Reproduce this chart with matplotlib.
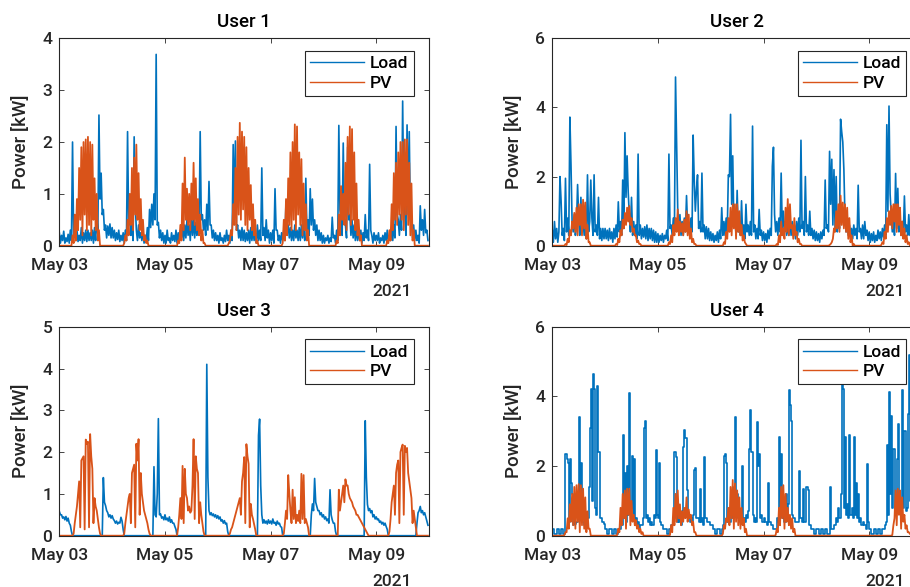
import numpy as np
import matplotlib
matplotlib.use("Agg")
import matplotlib.pyplot as plt
import matplotlib.dates as mdates

# One week of readings, May 03 00:00 -> May 10 00:00.
# *_hi is the reading at hh:00, *_lo the one at hh:30 (one row per day).
START = np.datetime64("2021-05-03T00:00")
END = np.datetime64("2021-05-10T00:00")
TICK_DAYS = ["2021-05-03", "2021-05-05", "2021-05-07", "2021-05-09"]
USERS = ["User 1", "User 2", "User 3", "User 4"]
Y_MAX = [4, 6, 5, 6]
Y_STEP = [1, 2, 1, 2]

load_u1_hi = [
    0.25, 0.2, 0.28, 0.15, 0.22, 0.3, 2.0, 0.35, 0.3, 0.2, 0.35, 0.25, 0.3, 0.3, 0.25, 0.3, 0.35, 0.6, 2.52, 1.4, 0.7, 0.4, 0.38, 0.42,
    0.35, 0.3, 0.25, 0.3, 0.2, 0.25, 0.3, 2.2, 0.6, 0.4, 2.1, 0.3, 0.4, 0.25, 0.3, 0.2, 0.35, 0.7, 0.8, 1.0, 3.69, 0.45, 0.3, 0.25,
    0.2, 0.3, 0.15, 0.25, 0.2, 0.3, 0.25, 0.3, 0.35, 0.4, 0.5, 0.4, 0.6, 0.5, 0.45, 0.8, 2.2, 0.6, 0.5, 0.8, 1.24, 0.4, 0.3, 0.25,
    0.2, 0.25, 0.15, 0.2, 0.3, 0.2, 0.3, 1.95, 2.02, 0.4, 0.3, 0.35, 0.3, 0.25, 0.3, 0.35, 0.3, 0.25, 0.4, 0.3, 1.5, 0.35, 0.5, 0.3,
    0.25, 0.3, 1.1, 0.3, 0.2, 0.25, 0.3, 0.86, 0.4, 0.35, 0.3, 0.4, 0.3, 0.35, 0.4, 0.45, 1.3, 0.5, 1.1, 0.9, 0.5, 0.4, 0.3, 0.25,
    0.2, 0.15, 0.2, 0.15, 0.55, 0.2, 0.3, 2.32, 0.5, 1.98, 0.4, 1.9, 0.6, 0.5, 0.4, 0.35, 0.3, 0.3, 0.25, 0.6, 0.3, 1.57, 0.2, 0.25,
    0.2, 0.25, 0.15, 0.2, 0.25, 0.3, 0.2, 0.3, 0.4, 2.3, 0.5, 0.6, 2.79, 0.6, 2.33, 2.2, 0.5, 0.4, 0.3, 0.2, 0.77, 0.5, 0.7, 0.3,
]
load_u1_lo = [
    0.05, 0.1, 0.05, 0.08, 0.05, 0.1, 0.15, 0.1, 0.08, 0.1, 0.05, 0.1, 0.08, 0.1, 0.1, 0.05, 0.1, 0.2, 0.9, 0.6, 0.3, 0.15, 0.2, 0.15,
    0.15, 0.1, 0.12, 0.08, 0.1, 0.05, 0.1, 0.4, 0.2, 0.1, 0.8, 0.1, 0.15, 0.1, 0.05, 0.1, 0.1, 0.35, 0.4, 0.5, 0.4, 0.15, 0.1, 0.05,
    0.05, 0.1, 0.05, 0.1, 0.08, 0.05, 0.1, 0.15, 0.1, 0.15, 0.2, 0.1, 0.2, 0.15, 0.2, 0.3, 0.5, 0.3, 0.2, 0.3, 0.4, 0.15, 0.1, 0.1,
    0.05, 0.1, 0.05, 0.08, 0.1, 0.05, 0.1, 0.6, 0.3, 0.15, 0.1, 0.1, 0.08, 0.1, 0.05, 0.1, 0.1, 0.05, 0.1, 0.1, 0.2, 0.1, 0.15, 0.05,
    0.1, 0.05, 0.3, 0.1, 0.05, 0.1, 0.1, 0.3, 0.15, 0.1, 0.1, 0.15, 0.1, 0.1, 0.15, 0.1, 0.3, 0.2, 0.4, 0.3, 0.2, 0.1, 0.1, 0.05,
    0.05, 0.1, 0.05, 0.08, 0.15, 0.05, 0.1, 0.7, 0.2, 0.6, 0.15, 0.5, 0.2, 0.15, 0.1, 0.1, 0.1, 0.05, 0.1, 0.15, 0.1, 0.3, 0.05, 0.1,
    0.1, 0.05, 0.1, 0.05, 0.1, 0.08, 0.1, 0.1, 0.15, 0.6, 0.2, 0.3, 0.8, 0.2, 0.6, 0.5, 0.15, 0.1, 0.1, 0.05, 0.3, 0.2, 0.25, 0.1,
]
pv_u1_hi = [
    0, 0, 0, 0, 0, 0, 0.2, 0.6, 0.9, 1.5, 1.9, 2.0, 2.05, 2.1, 2.0, 1.95, 1.3, 1.0, 0.3, 0, 0, 0, 0, 0,
    0, 0, 0, 0, 0, 0, 0.2, 0.5, 1.0, 1.5, 1.7, 1.95, 1.4, 0.9, 0.5, 0.2, 0.1, 0, 0, 0, 0, 0, 0, 0,
    0, 0, 0, 0, 0, 0, 0.1, 0.4, 1.2, 1.7, 1.1, 1.0, 1.2, 1.6, 1.3, 0.9, 0.6, 0.3, 0.05, 0, 0, 0, 0, 0,
    0, 0, 0, 0, 0, 0.05, 0.3, 0.8, 1.5, 2.1, 2.37, 2.2, 2.1, 1.9, 1.5, 1.17, 0.8, 0.5, 0.1, 0, 0, 0, 0, 0,
    0, 0, 0, 0, 0, 0, 0.5, 0.9, 1.3, 1.8, 2.0, 2.34, 2.3, 1.8, 1.67, 1.2, 0.8, 0.3, 0, 0, 0, 0, 0, 0,
    0, 0, 0, 0, 0, 0, 0.1, 0.6, 1.15, 1.0, 1.6, 2.1, 2.3, 2.25, 1.8, 1.2, 0.5, 0.2, 0, 0, 0, 0, 0, 0,
    0, 0, 0, 0, 0, 0.1, 0.3, 0.8, 1.4, 1.6, 1.8, 2.0, 2.0, 2.05, 2.05, 1.6, 1.2, 0.3, 0, 0, 0, 0, 0, 0,
]
pv_u1_lo = [
    0, 0, 0, 0, 0, 0, 0.05, 0.1, 0.3, 0.5, 0.2, 0.6, 0.3, 0.4, 0.2, 0.5, 0.3, 0.1, 0, 0, 0, 0, 0, 0,
    0, 0, 0, 0, 0, 0.05, 0.1, 0.2, 0.4, 0.3, 0.6, 0.5, 0.3, 0.2, 0.1, 0.05, 0, 0, 0, 0, 0, 0, 0, 0,
    0, 0, 0, 0, 0, 0, 0.05, 0.1, 0.3, 0.5, 0.4, 0.3, 0.5, 0.4, 0.3, 0.2, 0.1, 0.05, 0, 0, 0, 0, 0, 0,
    0, 0, 0, 0, 0, 0.1, 0.2, 0.4, 0.3, 0.6, 0.5, 0.7, 0.4, 0.3, 0.5, 0.3, 0.2, 0.05, 0, 0, 0, 0, 0, 0,
    0, 0, 0, 0, 0, 0.05, 0.1, 0.2, 0.4, 0.3, 0.5, 0.3, 0.6, 0.4, 0.2, 0.3, 0.1, 0, 0, 0, 0, 0, 0, 0,
    0, 0, 0, 0, 0, 0, 0.05, 0.2, 0.5, 0.4, 0.3, 0.6, 0.4, 0.5, 0.3, 0.2, 0.1, 0, 0, 0, 0, 0, 0, 0,
    0, 0, 0, 0, 0, 0.05, 0.1, 0.3, 0.5, 0.4, 0.6, 0.5, 0.3, 0.6, 0.4, 0.2, 0.1, 0, 0, 0, 0, 0, 0, 0,
]

load_u2_hi = [
    0.45, 0.7, 0.5, 0.4, 1.3, 0.5, 1.95, 0.8, 3.72, 0.7, 0.9, 0.6, 0.8, 1.4, 0.7, 0.6, 2.05, 0.7, 0.8, 2.05, 0.6, 1.4, 0.5, 0.5,
    0.5, 0.45, 0.5, 0.4, 0.5, 0.6, 1.27, 0.7, 1.9, 3.27, 2.6, 0.9, 1.4, 0.7, 0.6, 2.65, 0.6, 0.5, 0.55, 0.6, 0.5, 0.5, 0.45, 0.4,
    0.35, 0.3, 0.35, 0.3, 0.45, 2.65, 0.6, 0.8, 4.88, 1.05, 0.9, 0.7, 0.8, 1.45, 0.6, 0.8, 3.2, 1.0, 2.05, 0.7, 2.1, 0.6, 0.55, 0.5,
    0.4, 0.35, 0.3, 0.4, 0.45, 1.1, 0.7, 0.8, 2.05, 3.8, 2.6, 0.8, 1.6, 0.7, 1.3, 0.6, 1.2, 0.6, 0.7, 3.46, 0.6, 0.5, 1.05, 0.45,
    0.4, 0.35, 0.45, 0.5, 2.3, 0.9, 0.7, 0.8, 2.1, 1.0, 0.7, 0.6, 0.8, 0.7, 0.6, 0.7, 0.8, 3.05, 0.7, 2.0, 0.6, 1.0, 0.5, 0.45,
    0.4, 0.35, 0.4, 0.45, 1.9, 0.6, 2.73, 2.5, 2.2, 2.0, 0.8, 3.66, 3.0, 0.8, 0.7, 0.6, 0.5, 0.6, 0.5, 1.75, 0.5, 0.6, 0.7, 0.45,
    0.4, 0.35, 0.4, 0.3, 0.45, 0.4, 0.5, 0.6, 3.5, 4.04, 0.9, 0.7, 2.09, 1.66, 0.6, 0.7, 1.44, 0.6, 0.9, 0.8, 0.5, 0.5, 0.45, 0.4,
]
load_u2_lo = [
    0.1, 0.2, 0.1, 2.0, 0.3, 0.15, 0.4, 0.3, 2.35, 0.4, 0.3, 1.77, 0.3, 0.4, 0.3, 0.2, 0.4, 1.9, 0.3, 0.4, 0.3, 0.2, 0.15, 0.2,
    0.2, 0.15, 0.2, 0.1, 0.2, 0.25, 0.4, 0.3, 0.5, 1.4, 1.55, 0.4, 0.3, 0.3, 0.2, 0.3, 0.2, 0.25, 0.2, 0.15, 0.2, 0.15, 0.1, 0.1,
    0.1, 0.15, 0.1, 0.2, 0.15, 0.5, 0.3, 0.4, 3.0, 0.4, 0.3, 0.3, 0.4, 0.5, 0.3, 0.4, 1.9, 1.6, 0.5, 0.4, 0.4, 0.2, 0.2, 0.15,
    0.15, 0.1, 0.15, 0.1, 0.2, 0.3, 0.3, 0.4, 2.0, 1.2, 0.6, 0.3, 0.4, 0.3, 0.3, 0.2, 0.4, 0.3, 0.3, 0.4, 0.2, 0.2, 0.3, 0.15,
    0.15, 0.1, 0.2, 0.3, 2.85, 0.4, 0.3, 0.4, 0.5, 0.4, 0.3, 0.3, 0.3, 0.3, 0.2, 0.3, 0.4, 0.5, 0.3, 0.4, 0.3, 0.3, 0.2, 0.15,
    0.15, 0.1, 0.2, 0.3, 0.5, 0.4, 1.2, 0.6, 0.5, 0.4, 0.5, 3.3, 2.2, 0.4, 0.3, 0.3, 0.2, 0.3, 0.2, 0.4, 0.2, 0.2, 0.3, 0.15,
    0.1, 0.15, 0.1, 0.15, 0.2, 0.15, 0.25, 0.3, 1.0, 1.5, 0.4, 0.3, 0.5, 0.4, 0.3, 0.3, 0.4, 0.3, 0.3, 0.3, 0.2, 0.2, 0.15, 0.15,
]
pv_u2_hi = [
    0, 0, 0, 0, 0, 0, 0.05, 0.2, 0.45, 0.7, 0.95, 1.1, 1.2, 1.2, 1.33, 1.25, 0.6, 0.1, 0, 0, 0, 0, 0, 0,
    0, 0, 0, 0, 0, 0.05, 0.2, 0.45, 0.75, 0.95, 1.1, 1.15, 0.8, 0.5, 0.3, 0.15, 0.05, 0, 0, 0, 0, 0, 0, 0,
    0, 0, 0, 0, 0, 0.1, 0.3, 0.6, 0.8, 1.05, 0.7, 0.65, 0.75, 1.0, 0.9, 0.5, 0.2, 0.05, 0, 0, 0, 0, 0, 0,
    0, 0, 0, 0, 0, 0, 0.1, 0.4, 0.8, 1.1, 1.2, 1.2, 1.2, 1.0, 0.6, 0.3, 0.05, 0, 0, 0, 0, 0, 0, 0,
    0, 0, 0, 0, 0, 0, 0.05, 0.3, 0.7, 0.5, 1.1, 1.35, 1.2, 0.6, 0.8, 0.4, 0.2, 0.05, 0, 0, 0, 0, 0, 0,
    0, 0, 0, 0, 0, 0, 0.02, 0.1, 0.5, 1.0, 1.2, 1.45, 1.25, 1.2, 1.1, 0.8, 0.3, 0.05, 0, 0, 0, 0, 0, 0,
    0, 0, 0, 0, 0, 0, 0.1, 0.4, 0.8, 1.0, 1.15, 1.2, 1.2, 1.2, 1.1, 0.7, 0.5, 0.3, 0.1, 0, 0, 0, 0, 0,
]
pv_u2_lo = [
    0, 0, 0, 0, 0, 0, 0.02, 0.1, 0.3, 0.5, 0.4, 0.3, 0.6, 0.3, 0.5, 0.2, 0.1, 0, 0, 0, 0, 0, 0, 0,
    0, 0, 0, 0, 0, 0.02, 0.1, 0.3, 0.5, 0.6, 0.7, 0.6, 0.4, 0.3, 0.1, 0.05, 0, 0, 0, 0, 0, 0, 0, 0,
    0, 0, 0, 0, 0, 0.05, 0.1, 0.3, 0.4, 0.3, 0.4, 0.3, 0.4, 0.3, 0.2, 0.1, 0.05, 0, 0, 0, 0, 0, 0, 0,
    0, 0, 0, 0, 0, 0, 0.05, 0.2, 0.4, 0.3, 0.5, 0.2, 0.4, 0.3, 0.15, 0.1, 0, 0, 0, 0, 0, 0, 0, 0,
    0, 0, 0, 0, 0, 0, 0.02, 0.1, 0.3, 0.2, 0.4, 0.3, 0.5, 0.2, 0.3, 0.1, 0.05, 0, 0, 0, 0, 0, 0, 0,
    0, 0, 0, 0, 0, 0, 0.05, 0.2, 0.4, 0.5, 0.4, 0.6, 0.5, 0.4, 0.2, 0.1, 0, 0, 0, 0, 0, 0, 0, 0,
    0, 0, 0, 0, 0, 0.02, 0.05, 0.2, 0.4, 0.6, 0.5, 0.7, 0.4, 0.6, 0.3, 0.2, 0.1, 0.05, 0, 0, 0, 0, 0, 0,
]

load_u3_hi = [
    0.58, 0.5, 0.45, 0.46, 0.42, 0.25, 0, 0, 0, 0, 0, 0, 0, 0, 0, 0, 0, 0, 0, 0, 1.39, 0.72, 0.55, 0.5,
    0.48, 0.36, 0.35, 0.32, 0.44, 0.15, 0, 0, 0, 0, 0, 0, 0, 0, 0, 0, 0, 0, 0, 1.65, 0.45, 2.8, 0.52, 0.45,
    0.5, 0.42, 0.45, 0.38, 0.3, 0.15, 0, 0, 0, 0, 0, 0, 0, 0, 0, 0, 0, 0, 0, 4.1, 0.6, 0.55, 0.52, 0.5,
    0.48, 0.45, 0.38, 0.36, 0.3, 0, 0, 0, 0, 0, 0, 0, 0, 0, 0, 0, 0, 0, 0, 2.79, 0.5, 0.38, 0.35, 0.38,
    0.35, 0.4, 0.32, 0.35, 0.3, 0.2, 0, 0, 0, 0, 0, 0, 0, 0, 0, 0, 0, 0, 0, 0.76, 1.37, 0.7, 0.6, 0.55,
    0.5, 0.45, 0.4, 1.1, 0.38, 0.3, 0, 0, 0, 0, 0, 0, 0, 0, 0, 0, 0, 0, 0, 2.75, 0.75, 0.65, 0.6, 0.5,
    0.45, 0.4, 0.35, 0.32, 0.3, 0.15, 0, 0, 0, 0, 0, 0, 0, 0, 0, 0, 0, 0, 0, 0.55, 0.7, 0.6, 0.55, 0.35,
]
load_u3_lo = [
    0.5, 0.42, 0.38, 0.35, 0.3, 0.1, 0, 0, 0, 0, 0, 0, 0, 0, 0, 0, 0, 0, 0, 0, 0.8, 0.6, 0.45, 0.42,
    0.4, 0.3, 0.28, 0.3, 0.35, 0, 0, 0, 0, 0, 0, 0, 0, 0, 0, 0, 0, 0, 0, 0.5, 1.0, 0.5, 0.42, 0.38,
    0.38, 0.35, 0.32, 0.3, 0.22, 0, 0, 0, 0, 0, 0, 0, 0, 0, 0, 0, 0, 0, 0, 1.4, 0.5, 0.48, 0.45, 0.42,
    0.4, 0.35, 0.3, 0.28, 0.1, 0, 0, 0, 0, 0, 0, 0, 0, 0, 0, 0, 0, 0, 2.4, 1.2, 0.3, 0.3, 0.28, 0.3,
    0.28, 0.3, 0.25, 0.28, 0.22, 0, 0, 0, 0, 0, 0, 0, 0, 0, 0, 0, 0, 0, 0.5, 0.6, 0.8, 0.6, 0.5, 0.45,
    0.4, 0.36, 0.3, 0.5, 0.3, 0.1, 0, 0, 0, 0, 0, 0, 0, 0, 0, 0, 0, 0, 0, 1.4, 0.6, 0.55, 0.45, 0.4,
    0.38, 0.32, 0.28, 0.25, 0.22, 0, 0, 0, 0, 0, 0, 0, 0, 0, 0, 0, 0, 0, 0.3, 0.6, 0.55, 0.5, 0.45, 0.25,
]
pv_u3_hi = [
    0, 0, 0, 0, 0, 0, 0, 0.3, 0.7, 1.3, 1.8, 1.9, 2.3, 2.25, 2.43, 1.6, 0.9, 0.6, 0.2, 0, 0, 0, 0, 0,
    0, 0, 0, 0, 0, 0, 0.3, 0.7, 1.0, 1.5, 1.7, 2.2, 2.31, 1.5, 0.8, 0.5, 0.3, 0.05, 0, 0, 0, 0, 0, 0,
    0, 0, 0, 0, 0, 0, 0.2, 0.9, 1.67, 1.6, 0.9, 0.7, 0.6, 2.31, 1.9, 1.5, 0.8, 0.3, 0, 0, 0, 0, 0, 0,
    0, 0, 0, 0, 0, 0, 0.15, 0.3, 0.5, 0.7, 0.9, 1.3, 1.88, 2.19, 1.72, 0.76, 0.4, 0.15, 0, 0, 0, 0, 0, 0,
    0, 0, 0, 0, 0, 0, 0.05, 0.6, 1.45, 0.6, 1.1, 0.92, 0.5, 0.6, 1.48, 1.45, 0.4, 0.2, 0, 0, 0, 0, 0, 0,
    0, 0, 0, 0, 0, 0, 0, 1.1, 0.8, 1.2, 1.35, 1.2, 0.9, 0.8, 0.65, 0.5, 0.45, 0.35, 0.25, 0.15, 0.05, 0, 0, 0,
    0, 0, 0, 0, 0, 0, 0.1, 0.8, 1.2, 1.5, 1.8, 2.0, 2.18, 2.15, 2.1, 1.3, 0.9, 0.6, 0.2, 0, 0, 0, 0, 0,
]
pv_u3_lo = [
    0, 0, 0, 0, 0, 0, 0.05, 0.5, 1.0, 0.2, 1.85, 0.15, 2.2, 0.2, 1.9, 0.3, 0.7, 0.4, 0.05, 0, 0, 0, 0, 0,
    0, 0, 0, 0, 0, 0.05, 0.5, 0.9, 0.3, 1.6, 0.2, 1.8, 0.5, 1.0, 0.6, 0.4, 0.15, 0, 0, 0, 0, 0, 0, 0,
    0, 0, 0, 0, 0, 0, 0.5, 0.4, 0.3, 1.0, 0.6, 0.55, 1.2, 0.4, 1.6, 0.3, 0.5, 0.1, 0, 0, 0, 0, 0, 0,
    0, 0, 0, 0, 0, 0.05, 0.2, 0.4, 0.6, 0.8, 0.5, 1.5, 0.3, 1.9, 0.2, 0.5, 0.28, 0, 0, 0, 0, 0, 0, 0,
    0, 0, 0, 0, 0, 0, 0.3, 0.4, 1.0, 0.3, 0.4, 0.3, 0.35, 0.3, 0.4, 0.3, 0.3, 0, 0, 0, 0, 0, 0, 0,
    0, 0, 0, 0, 0, 0, 0, 0.6, 1.0, 0.8, 1.2, 1.0, 0.85, 0.7, 0.6, 0.5, 0.4, 0.3, 0.2, 0.1, 0, 0, 0, 0,
    0, 0, 0, 0, 0, 0, 0.4, 1.0, 0.5, 1.7, 0.3, 2.1, 0.5, 2.0, 1.5, 1.1, 0.3, 0.4, 0, 0, 0, 0, 0, 0,
]

load_u4_hi = [
    0.2, 0.05, 0.2, 0.05, 0.2, 0.05, 2.35, 2.1, 2.2, 1.2, 0.45, 0.4, 3.4, 2.1, 0.4, 0.35, 0.5, 3.1, 1.0, 4.2, 0.6, 2.4, 0.5, 0.4,
    0.2, 0.05, 0.2, 0.05, 0.2, 0.05, 0.2, 0.4, 2.9, 1.8, 2.0, 4.1, 2.3, 2.2, 0.5, 0.4, 0.3, 0.5, 3.3, 0.6, 0.5, 0.4, 0.6, 2.45,
    0.5, 0.4, 0.3, 0.2, 0.05, 0.2, 0.3, 0.5, 2.25, 0.6, 0.5, 0.7, 3.04, 1.3, 0.6, 0.5, 0.6, 1.95, 0.5, 1.35, 0.5, 2.27, 0.5, 0.4,
    0.3, 0.2, 0.05, 0.2, 0.05, 0.2, 2.3, 2.1, 0.5, 0.6, 0.8, 3.4, 1.2, 0.6, 2.0, 0.5, 0.6, 0.7, 3.6, 0.6, 0.5, 3.26, 2.35, 0.6,
    0.5, 0.4, 1.5, 0.4, 0.3, 0.2, 0.5, 2.83, 2.35, 0.8, 1.2, 0.9, 3.74, 0.6, 0.5, 0.4, 1.87, 0.5, 1.35, 0.4, 1.3, 0.3, 0.2, 0.05,
    0.2, 0.05, 0.2, 0.05, 0.2, 0.05, 1.4, 0.2, 0.3, 0.5, 0.8, 1.2, 4.2, 2.83, 0.9, 2.9, 0.8, 2.83, 1.5, 1.2, 0.5, 0.4, 0.3, 2.05,
    0.2, 0.05, 0.2, 0.05, 0.2, 0.05, 0.2, 0.3, 2.6, 4.12, 3.45, 2.5, 0.8, 3.2, 1.0, 4.17, 3.0, 0.8, 5.2, 2.0, 1.5, 0.8, 0.5, 0.4,
]
load_u4_lo = [
    0.2, 0.05, 0.2, 0.05, 0.2, 0.05, 2.2, 0.4, 1.5, 0.3, 0.35, 0.5, 0.5, 0.4, 0.3, 0.4, 1.4, 4.2, 4.65, 0.8, 4.3, 0.5, 0.4, 0.35,
    0.2, 0.05, 0.2, 0.05, 0.2, 0.05, 0.2, 0.3, 0.5, 0.4, 0.6, 0.8, 0.5, 0.4, 0.3, 0.2, 0.3, 3.1, 0.5, 0.4, 0.3, 0.3, 0.5, 0.6,
    2.1, 0.3, 0.2, 0.2, 0.05, 0.2, 0.3, 2.4, 0.4, 0.4, 0.3, 2.55, 2.8, 0.5, 0.4, 0.4, 1.9, 0.5, 0.4, 0.4, 0.3, 0.5, 0.4, 0.3,
    0.3, 0.2, 0.05, 0.2, 0.05, 0.3, 2.35, 0.4, 0.4, 0.5, 1.4, 0.6, 0.5, 0.4, 0.5, 0.4, 0.5, 2.5, 2.4, 0.4, 0.4, 2.0, 0.5, 0.4,
    0.4, 0.3, 0.4, 0.3, 0.2, 0.2, 0.4, 0.6, 0.5, 0.4, 0.5, 4.17, 3.3, 0.5, 0.4, 0.4, 0.5, 0.4, 0.4, 1.4, 0.3, 0.2, 0.2, 0.05,
    0.2, 0.05, 0.2, 0.05, 0.2, 0.05, 0.2, 0.2, 0.3, 0.4, 0.5, 4.8, 0.8, 0.6, 0.5, 0.6, 0.5, 0.6, 0.5, 0.4, 0.3, 0.3, 0.2, 0.4,
    0.2, 0.05, 0.2, 0.05, 0.2, 0.05, 0.2, 0.4, 0.6, 1.2, 0.8, 0.6, 2.2, 0.7, 0.6, 0.8, 0.7, 3.5, 1.0, 0.8, 0.6, 0.4, 0.3, 0.2,
]
pv_u4_hi = [
    0, 0, 0, 0, 0, 0, 0.1, 0.5, 0.9, 1.2, 1.4, 1.45, 1.48, 1.45, 1.35, 1.1, 0.7, 0.2, 0, 0, 0, 0, 0, 0,
    0, 0, 0, 0, 0, 0, 0.2, 0.8, 1.2, 1.3, 1.35, 1.35, 1.0, 0.6, 0.45, 0.3, 0.2, 0.1, 0, 0, 0, 0, 0, 0,
    0, 0, 0, 0, 0, 0, 0.3, 0.8, 1.2, 1.3, 0.9, 0.7, 0.8, 1.1, 0.75, 0.6, 0.4, 0.1, 0, 0, 0, 0, 0, 0,
    0, 0, 0, 0, 0, 0, 0.3, 0.5, 0.8, 1.4, 1.6, 1.5, 1.3, 1.1, 0.8, 0.5, 0.2, 0, 0, 0, 0, 0, 0, 0,
    0, 0, 0, 0, 0, 0, 0.2, 0.8, 1.4, 1.45, 1.2, 0.8, 0.6, 0.5, 0.2, 0, 0, 0, 0, 0, 0, 0, 0, 0,
    0, 0, 0, 0, 0, 0, 0, 0, 0, 0, 0, 0, 0, 0, 0, 0, 0, 0, 0, 0, 0, 0, 0, 0,
    0, 0, 0, 0, 0, 0, 0, 0, 0, 0, 0, 0.3, 1.3, 1.35, 1.3, 1.1, 0.6, 0.3, 0.1, 0.05, 0, 0, 0, 0,
]
pv_u4_lo = [
    0, 0, 0, 0, 0, 0.02, 0.1, 0.2, 0.4, 0.3, 0.2, 0.4, 0.1, 0.3, 0.2, 0.1, 0.2, 0, 0, 0, 0, 0, 0, 0,
    0, 0, 0, 0, 0, 0.02, 0.1, 0.3, 0.5, 0.2, 0.6, 0.3, 0.4, 0.3, 0.2, 0.1, 0.05, 0, 0, 0, 0, 0, 0, 0,
    0, 0, 0, 0, 0, 0.02, 0.1, 0.3, 0.4, 0.5, 0.3, 0.4, 0.5, 0.4, 0.5, 0.3, 0.1, 0, 0, 0, 0, 0, 0, 0,
    0, 0, 0, 0, 0, 0.05, 0.2, 0.4, 0.3, 0.5, 0.2, 0.4, 0.3, 0.2, 0.3, 0.1, 0, 0, 0, 0, 0, 0, 0, 0,
    0, 0, 0, 0, 0, 0.02, 0.1, 0.3, 0.5, 0.2, 0.4, 0.3, 0.2, 0.1, 0, 0, 0, 0, 0, 0, 0, 0, 0, 0,
    0, 0, 0, 0, 0, 0, 0, 0, 0, 0, 0, 0, 0, 0, 0, 0, 0, 0, 0, 0, 0, 0, 0, 0,
    0, 0, 0, 0, 0, 0, 0, 0, 0, 0, 0.02, 0.5, 0.3, 0.6, 0.2, 0.4, 0.2, 0.1, 0.05, 0, 0, 0, 0, 0,
]

LOAD_COLOR = "#0072BD"
PV_COLOR = "#D95319"
AX_COLOR = "#262626"


def interleave(hi, lo, name):
    assert len(hi) == 168 and len(lo) == 168, f"{name}: {len(hi)} / {len(lo)}"
    vals = np.empty(2 * len(hi))
    vals[0::2] = hi
    vals[1::2] = lo
    return vals


def draw_user(ax, idx, load, pv, steps=False):
    times = START + np.arange(len(load)) * np.timedelta64(30, "m")
    ds = "steps-post" if steps else "default"
    ax.plot(times, load, color=LOAD_COLOR, lw=1.2, label="Load", drawstyle=ds)
    ax.plot(times, pv, color=PV_COLOR, lw=1.3, label="PV")

    ax.set_xlim(START, END)
    ax.set_ylim(0, Y_MAX[idx])
    ax.set_yticks(np.arange(0, Y_MAX[idx] + 0.1, Y_STEP[idx]))
    ax.set_xticks([np.datetime64(d) for d in TICK_DAYS])
    ax.xaxis.set_major_formatter(mdates.DateFormatter("%b %d"))
    ax.tick_params(direction="in", length=3.5, width=0.6, top=True, right=True,
                   color=AX_COLOR, labelcolor=AX_COLOR, labelsize=12.5)
    ax.tick_params(axis="x", pad=9)
    ax.tick_params(axis="y", pad=5)
    for lab in ax.get_xticklabels() + ax.get_yticklabels():
        lab.set_fontweight("medium")
    for s in ax.spines.values():
        s.set_color(AX_COLOR)
        s.set_linewidth(0.8)

    ax.set_title(USERS[idx], fontsize=13.5, fontweight="medium", color="black", pad=8)
    ax.set_ylabel("Power [kW]", fontsize=13.5, fontweight="medium", color=AX_COLOR)
    ax.yaxis.set_label_coords(-0.078, 0.5)
    ax.annotate("2021", xy=(0.954, 0), xycoords="axes fraction", xytext=(0, -46),
                textcoords="offset pixels", ha="right", va="center", fontsize=12.5,
                fontweight="medium", color=AX_COLOR)

    leg = ax.legend(loc="upper right", bbox_to_anchor=(0.958, 0.94), borderaxespad=0,
                    prop={"size": 12.5, "weight": "medium"}, fancybox=False, framealpha=1,
                    edgecolor=AX_COLOR, handlelength=3.1, handletextpad=0.35,
                    labelspacing=0.25, borderpad=0.3)
    leg.get_frame().set_linewidth(0.8)
    for line in leg.get_lines():
        line.set_linewidth(1.0)
    leg.set_zorder(5)


def main():
    plt.rcParams["font.family"] = ["Roboto", "DejaVu Sans"]
    fig = plt.figure(figsize=(9.1, 5.87), dpi=100)

    w, h_top, h_bot = 0.4063, 0.3533, 0.356
    boxes = [
        [0.0652, 0.5814, w, h_top],
        [0.6069, 0.5814, w, h_top],
        [0.0652, 0.0874, w, h_bot],
        [0.6069, 0.0874, w, h_bot],
    ]
    series = [
        (interleave(load_u1_hi, load_u1_lo, "load1"), interleave(pv_u1_hi, pv_u1_lo, "pv1"), False),
        (interleave(load_u2_hi, load_u2_lo, "load2"), interleave(pv_u2_hi, pv_u2_lo, "pv2"), False),
        (interleave(load_u3_hi, load_u3_lo, "load3"), interleave(pv_u3_hi, pv_u3_lo, "pv3"), False),
        (interleave(load_u4_hi, load_u4_lo, "load4"), interleave(pv_u4_hi, pv_u4_lo, "pv4"), True),
    ]
    for i, (box, (load, pv, steps)) in enumerate(zip(boxes, series)):
        ax = fig.add_axes(box)
        draw_user(ax, i, load, pv, steps)

    fig.savefig("out.png", dpi=100)
    plt.close(fig)


if __name__ == "__main__":
    main()
